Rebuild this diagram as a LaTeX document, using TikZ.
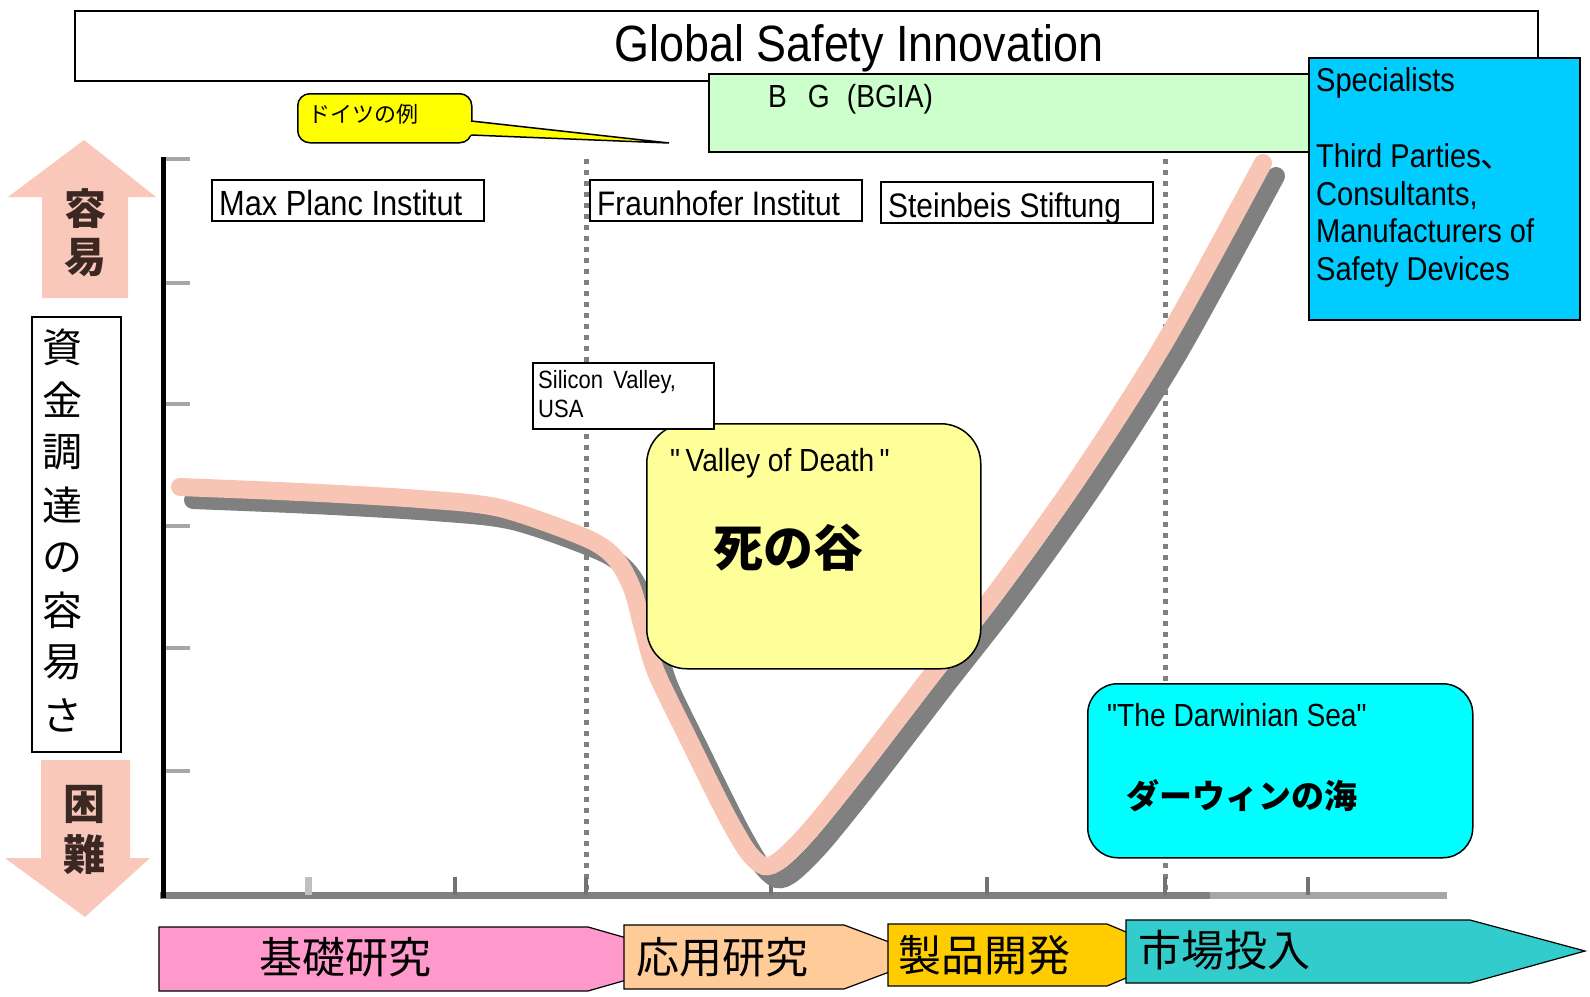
\documentclass[tikz,border=0pt]{standalone}
\usepackage{fontspec}
\setmainfont{Liberation Sans}[FakeStretch=0.88, Ligatures=TeXOff]
\newfontfamily\jp{Noto Sans CJK JP}
\definecolor{pinkc}{RGB}{248,196,180}
\definecolor{greenbg}{RGB}{204,255,204}
\definecolor{cyanb}{RGB}{0,204,255}
\definecolor{valleyc}{RGB}{255,255,153}
\definecolor{seac}{RGB}{0,255,255}
\definecolor{calloutc}{RGB}{255,255,0}
\definecolor{apink}{RGB}{255,153,204}
\definecolor{apeach}{RGB}{255,204,153}
\definecolor{agold}{RGB}{255,204,0}
\definecolor{ateal}{RGB}{51,204,204}
\definecolor{arrowpink}{RGB}{249,200,186}
\definecolor{arrowtxt}{RGB}{60,40,35}
\definecolor{shadowc}{RGB}{128,128,128}
\tikzset{
  boxst/.style={draw=black, line width=1.5pt, inner sep=0pt, anchor=north west},
  lbl/.style={anchor=base west, inner sep=0pt, font=\fontsize{#1}{#1}\selectfont},
  jpn/.style={inner sep=0pt, font={\jp\fontsize{#1}{#1}\selectfont}},
  jpb/.style={inner sep=0pt, font={\jp\bfseries\fontsize{#1}{#1}\selectfont}},
  dashline/.style={draw=gray, line width=5pt, dash pattern=on 5pt off 6pt},
  ytk/.style={draw=gray!70, line width=4pt},
  xtk/.style={draw=gray!90!black, line width=4pt},
  stage/.style={draw=black, line width=1.2pt},
}
\begin{document}
\begin{tikzpicture}[x=1pt,y=-1pt]
\useasboundingbox (0,0) rectangle (1590,996);
\fill[white] (0,0) rectangle (1590,996);

% axes
\foreach \yy in {159,283,404,526,648,771} \draw[ytk] (166,\yy) -- (190,\yy);
\draw[dashline] (586,159) -- (586,893);
\draw[dashline] (1165,159) -- (1165,893);
\draw[draw=gray, line width=7pt] (160,895) -- (1210,895);
\draw[draw=gray!70, line width=7pt] (1210,895) -- (1447,895);
\draw[draw=gray!50, line width=7pt] (308,877) -- (308,895);
\foreach \xx in {455,586,771,987,1165,1308} \draw[xtk] (\xx,877) -- (\xx,895);
\draw[black, line width=5pt] (163,157) -- (163,898);

% curve
\draw[shadowc, line width=18pt, line cap=round, shift={(13,13)}]
  plot[smooth, tension=0.5] coordinates {(180,487) (300,492) (420,499) (500,508) (586,538) (615,558) (632,588) (643,628) (656,672) (685,732) (712,787) (730,822) (748,852) (764,866) (780,860) (810,830) (860,768) (933,673) (1000,587) (1080,475) (1166,340) (1263,163)};
\draw[pinkc, line width=18pt, line cap=round]
  plot[smooth, tension=0.5] coordinates {(180,487) (300,492) (420,499) (500,508) (586,538) (615,558) (632,588) (643,628) (656,672) (685,732) (712,787) (730,822) (748,852) (764,866) (780,860) (810,830) (860,768) (933,673) (1000,587) (1080,475) (1166,340) (1263,163)};

% header
\node[boxst, minimum width=1463pt, minimum height=70pt] (hdr) at (74,10) {};
\node[anchor=base, inner sep=0pt, font=\fontsize{51}{60}\selectfont] (title) at (859,61) {Global Safety Innovation};

% green BG box
\node[boxst, fill=greenbg, minimum width=620pt, minimum height=78pt] (bg) at (708,73) {};
\node[lbl=32] (bgt) at (768,107) {B\hspace{21pt}G\hspace{17pt}(BGIA)};

% callout
\node[boxst, fill=calloutc, rounded corners=12pt, minimum width=174pt, minimum height=49pt] (call) at (297,93) {};
\coordinate (ctip) at (669,143);
\fill[calloutc] (466,121) -- (ctip) -- (466,135) -- cycle;
\draw[black, line width=1.5pt] (471,121) -- (ctip) -- (471,135);
\node[jpn=22] (callt) at (363,114) {ドイツの例};

% specialists box
\node[boxst, fill=cyanb, minimum width=271pt, minimum height=262pt] (spec) at (1308,57) {};
\node[lbl=33] (s1) at (1316,91) {Specialists};
\node[lbl=33] (s2) at (1316,167) {Third Parties{\jp 、}};
\node[lbl=33] (s3) at (1316,205) {Consultants,};
\node[lbl=33] (s4) at (1316,242) {Manufacturers of};
\node[lbl=33] (s5) at (1316,280) {Safety Devices};

% institute labels
\node[boxst, fill=white, minimum width=272pt, minimum height=41pt] (mpb) at (211,179) {};
\node[lbl=35] (mpt) at (219,215) {Max Planc Institut};
\node[boxst, fill=white, minimum width=272pt, minimum height=41pt] (fhb) at (589,179) {};
\node[lbl=34] (fht) at (597,215) {Fraunhofer Institut};
\node[boxst, fill=white, minimum width=272pt, minimum height=41pt] (stb) at (880,181) {};
\node[lbl=34] (stt) at (888,217) {Steinbeis Stiftung};

% valley of death
\node[boxst, fill=valleyc, rounded corners=40pt, minimum width=334pt, minimum height=245pt] (vod) at (646,423) {};
\node[lbl=32] (vodt) at (670,471) {"\,Valley of Death\,"};
\node[jpb=50] (vodj) at (788,548) {死の谷};

% silicon valley
\node[boxst, fill=white, minimum width=181pt, minimum height=66pt] (svb) at (532,362) {};
\node[lbl=25] (sv1) at (538,388) {Silicon\, Valley,};
\node[lbl=25] (sv2) at (538,417) {USA};

% darwinian sea
\node[boxst, fill=seac, rounded corners=30pt, minimum width=385pt, minimum height=174pt] (sea) at (1087,683) {};
\node[lbl=32] (seat) at (1107,726) {"The Darwinian Sea"};
\node[jpb=33] (seaj) at (1242,796) {ダーウィンの海};

% vertical label
\node[boxst, fill=white, minimum width=89pt, minimum height=435pt] (vbox) at (31,316) {};
\foreach \c [count=\i] in {資,金,調,達,の,容,易,さ}
  \node[jpn=40] (v\i) at (62,{347+52.6*(\i-1)}) {\c};

% up / down arrows
\fill[arrowpink] (42,298) -- (42,197) -- (8,197) -- (84,140) -- (156,197) -- (128,197) -- (128,298) -- cycle;
\node[jpb=42, text=arrowtxt] (up1) at (85,209) {容};
\node[jpb=42, text=arrowtxt] (up2) at (85,258) {易};
\fill[arrowpink] (41,760) -- (130,760) -- (130,858) -- (150,858) -- (85,917) -- (5,858) -- (41,858) -- cycle;
\node[jpb=42, text=arrowtxt] (dn1) at (84,804) {困};
\node[jpb=42, text=arrowtxt] (dn2) at (84,855) {難};

% bottom stages
\draw[stage, fill=apink] (159,927) -- (588,927) -- (700,959) -- (588,991) -- (159,991) -- cycle;
\node[jpn=43] (st1) at (345,957) {基礎研究};
\draw[stage, fill=apeach] (624,925) -- (844,925) -- (929,957) -- (844,989) -- (624,989) -- cycle;
\node[jpn=43] (st2) at (722,957) {応用研究};
\draw[stage, fill=agold] (888,924) -- (1107,924) -- (1181,955) -- (1107,986) -- (888,986) -- cycle;
\node[jpn=43] (st3) at (984,955) {製品開発};
\draw[stage, fill=ateal] (1126,920) -- (1470,920) -- (1585,951) -- (1470,983) -- (1126,983) -- cycle;
\node[jpn=43] (st4) at (1224,950) {市場投入};
\end{tikzpicture}
\end{document}
